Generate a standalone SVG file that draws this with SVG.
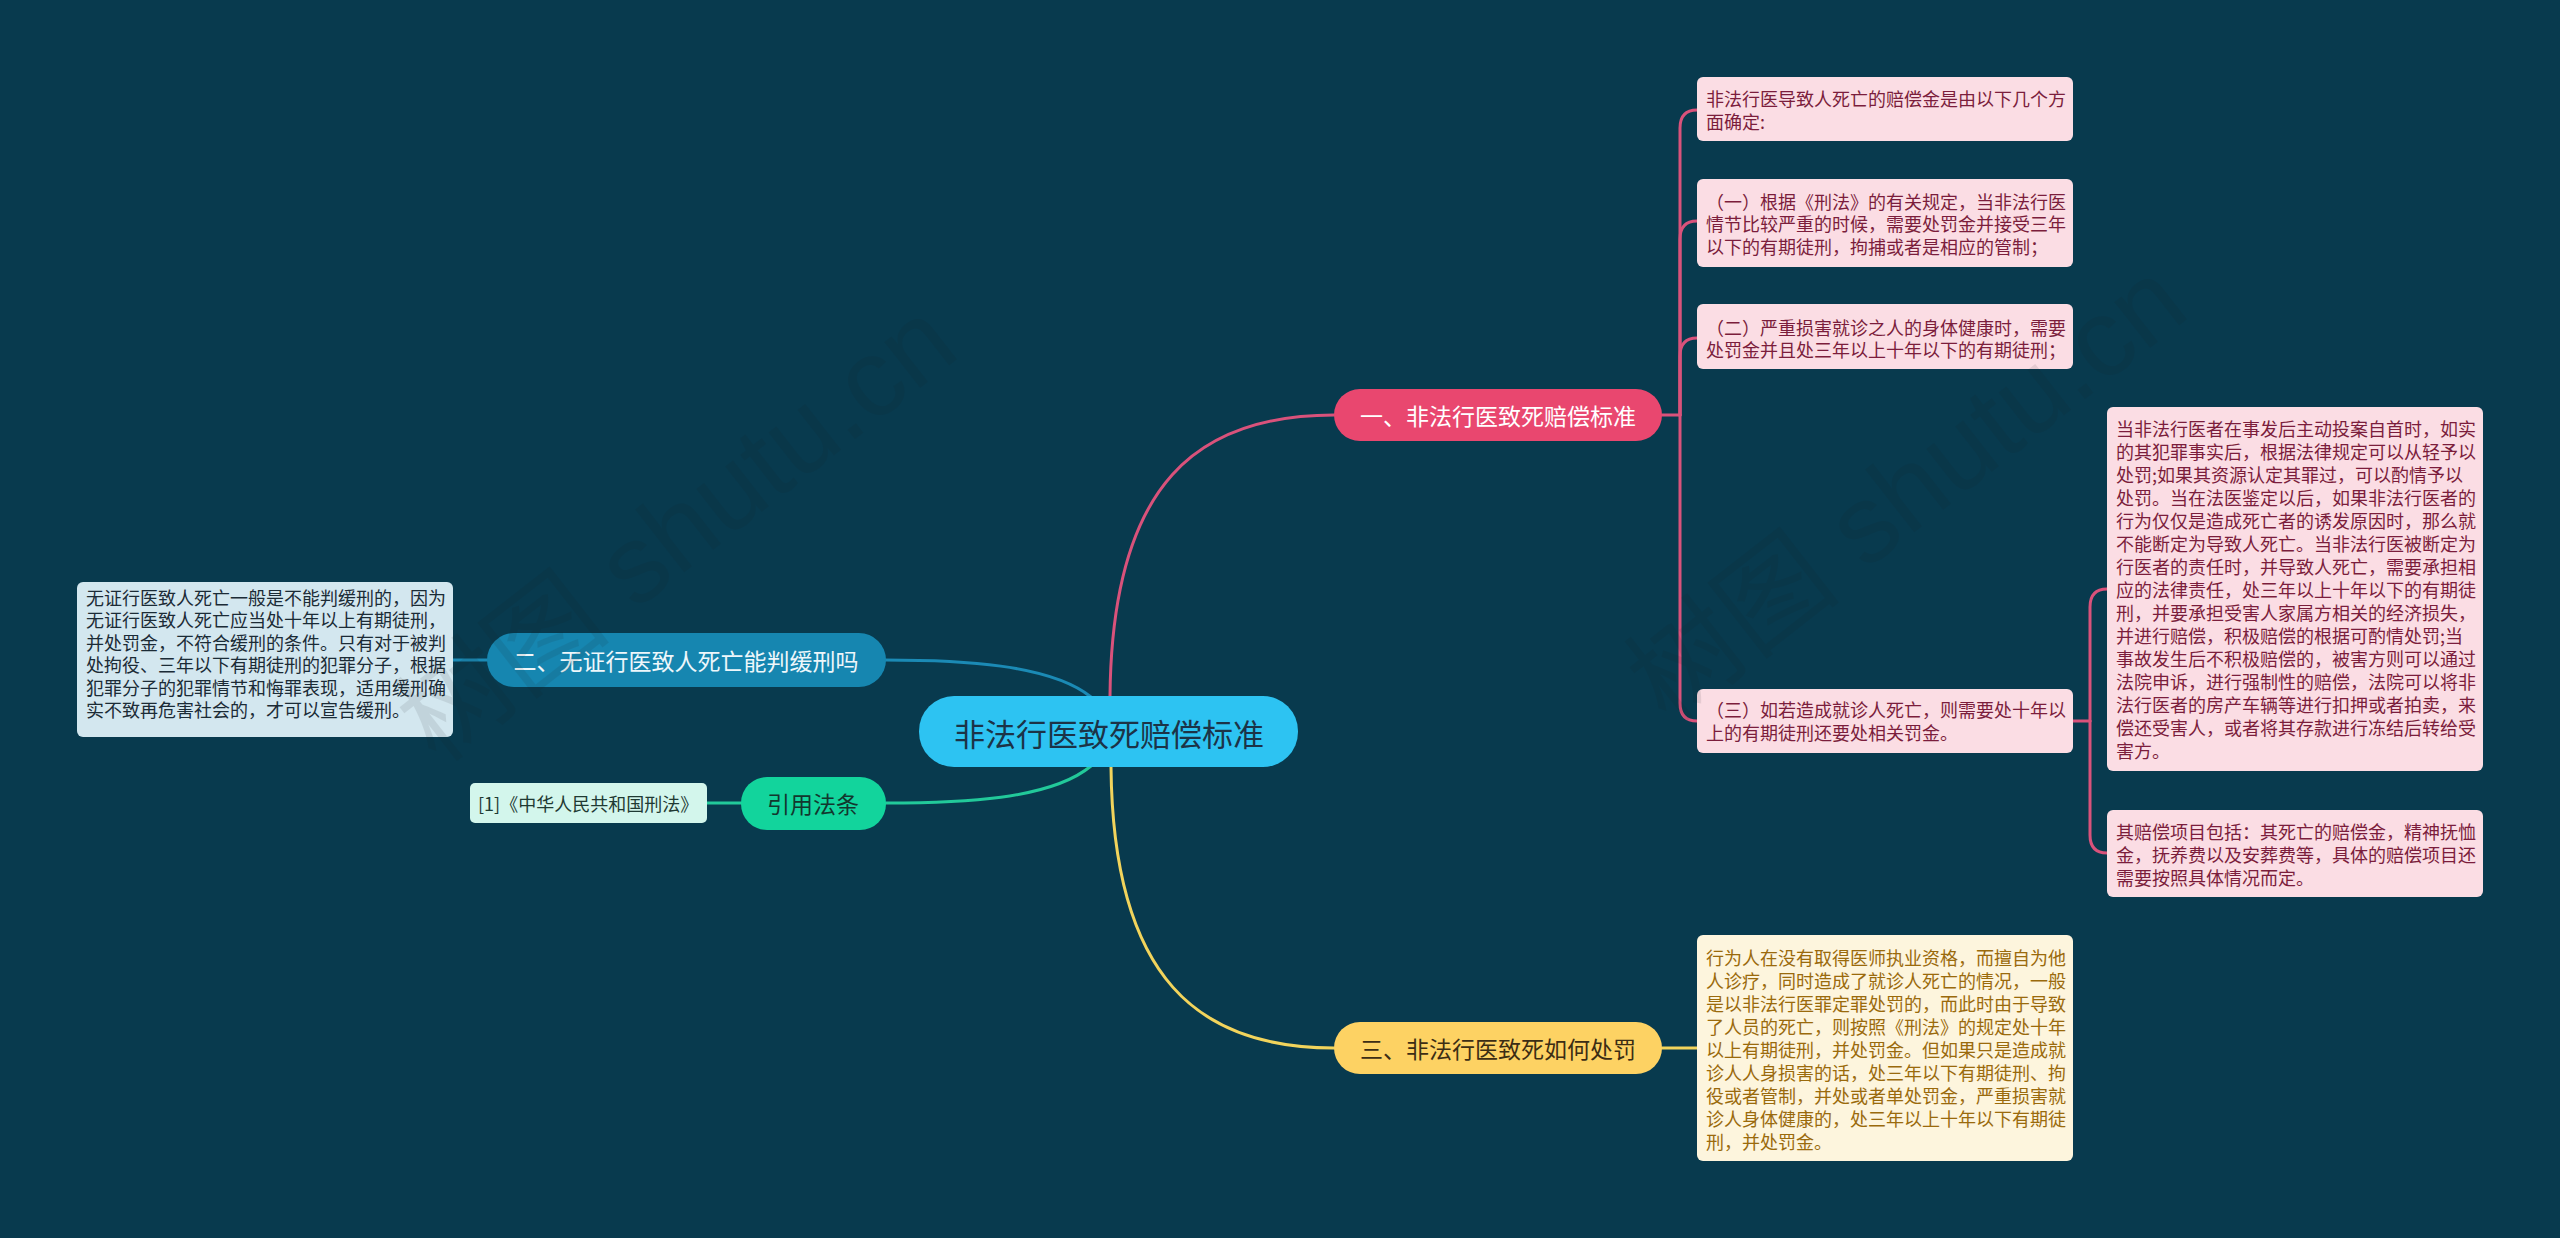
<svg xmlns="http://www.w3.org/2000/svg" width="2560" height="1238" viewBox="0 0 2560 1238">
<style>
.bg{fill:#083a4e}
.t{font-family:"Noto Sans CJK SC","Liberation Sans",sans-serif}
.body{font-size:18px}
.pink rect{fill:#fbdde4}
.pink text{fill:#7b1d3c}
.yel rect{fill:#fdf5dd}
.yel text{fill:#9a6a0c}
.lb rect{fill:#d3e7ef}
.lb text{fill:#1b2b36}
.lnk{fill:none;stroke-width:3;stroke-linecap:round}
.lk-p{stroke:#d9527b}
.lk-b{stroke:#1b8ab5}
.lk-g{stroke:#22c99a}
.lk-y{stroke:#f2d45c}
.node-t{font-size:23px;text-anchor:middle;dominant-baseline:central}
.wm{font-family:"Liberation Sans","Noto Sans CJK SC",sans-serif;font-size:110px;fill:#1a1a1a;opacity:0.09}
</style>
<rect class="bg" x="0" y="0" width="2560" height="1238"/>

<g id="connectors">
  <path class="lnk lk-p" d="M1110 696 C1112 480 1200 415 1334 415"/>
  <path class="lnk lk-y" d="M1111 767 C1113 980 1200 1048 1334 1048"/>
  <path class="lnk lk-b" d="M1091 697 C1050 664 960 660 885 660"/>
  <path class="lnk lk-g" d="M1091 766 C1050 800 960 803 886 803"/>
  <path class="lnk lk-b" d="M487 660 H453"/>
  <path class="lnk lk-g" d="M741 803 H707"/>
  <path class="lnk lk-p" d="M1662 415 H1680"/>
  <path class="lnk lk-p" d="M1680 415 V128 Q1680 110 1697 110"/>
  <path class="lnk lk-p" d="M1680 415 V239 Q1680 221 1697 221"/>
  <path class="lnk lk-p" d="M1680 415 V356 Q1680 338 1697 338"/>
  <path class="lnk lk-p" d="M1680 415 V703 Q1680 721 1697 721"/>
  <path class="lnk lk-p" d="M2073 721 H2090"/>
  <path class="lnk lk-p" d="M2090 721 V607 Q2090 589 2107 589"/>
  <path class="lnk lk-p" d="M2090 721 V835 Q2090 853 2107 853"/>
  <path class="lnk lk-y" d="M1662 1048 H1697"/>
</g>

<g id="root">
  <rect x="919" y="696" width="379" height="71" rx="35" fill="#2dc3f2"/>
  <text class="t" x="1109" y="732" font-size="31" text-anchor="middle" dominant-baseline="central" fill="#1c3347">非法行医致死赔偿标准</text>
</g>

<g id="n1">
  <rect x="1334" y="389" width="328" height="52" rx="26" fill="#e9476f"/>
  <text class="t node-t" x="1498" y="415" fill="#ffffff">一、非法行医致死赔偿标准</text>
</g>
<g id="n2">
  <rect x="487" y="633" width="399" height="54" rx="27" fill="#1686b0"/>
  <text class="t node-t" x="686" y="660" fill="#eef7fb">二、无证行医致人死亡能判缓刑吗</text>
</g>
<g id="n3">
  <rect x="1334" y="1022" width="328" height="52" rx="26" fill="#fdd263"/>
  <text class="t node-t" x="1498" y="1048" fill="#3c2d14">三、非法行医致死如何处罚</text>
</g>
<g id="n4">
  <rect x="741" y="777" width="145" height="53" rx="26" fill="#12d49c"/>
  <text class="t node-t" x="813" y="803" fill="#12372e">引用法条</text>
</g>
<g id="n4a">
  <rect x="470" y="783" width="237" height="40" rx="5" fill="#d3f6ec"/>
  <text class="t body" x="478" y="803" dominant-baseline="central" fill="#1f3a33">[1]《中华人民共和国刑法》</text>
</g>

<g id="n1a" class="pink">
  <rect x="1697" y="77" width="376" height="64" rx="6"/>
  <text class="t body" x="1706" y="106">非法行医导致人死亡的赔偿金是由以下几个方</text>
  <text class="t body" x="1706" y="129">面确定:</text>
</g>
<g id="n1b" class="pink">
  <rect x="1697" y="179" width="376" height="88" rx="6"/>
  <text class="t body" x="1706" y="209">（一）根据《刑法》的有关规定，当非法行医</text>
  <text class="t body" x="1706" y="231">情节比较严重的时候，需要处罚金并接受三年</text>
  <text class="t body" x="1706" y="254">以下的有期徒刑，拘捕或者是相应的管制；</text>
</g>
<g id="n1c" class="pink">
  <rect x="1697" y="304" width="376" height="65" rx="6"/>
  <text class="t body" x="1706" y="335">（二）严重损害就诊之人的身体健康时，需要</text>
  <text class="t body" x="1706" y="357">处罚金并且处三年以上十年以下的有期徒刑；</text>
</g>
<g id="n1d" class="pink">
  <rect x="1697" y="689" width="376" height="64" rx="6"/>
  <text class="t body" x="1706" y="717">（三）如若造成就诊人死亡，则需要处十年以</text>
  <text class="t body" x="1706" y="740">上的有期徒刑还要处相关罚金。</text>
</g>
<g id="n1d1" class="pink">
  <rect x="2107" y="407" width="376" height="364" rx="6"/>
  <text class="t body" x="2116" y="436">当非法行医者在事发后主动投案自首时，如实</text>
  <text class="t body" x="2116" y="459">的其犯罪事实后，根据法律规定可以从轻予以</text>
  <text class="t body" x="2116" y="482">处罚;如果其资源认定其罪过，可以酌情予以</text>
  <text class="t body" x="2116" y="505">处罚。当在法医鉴定以后，如果非法行医者的</text>
  <text class="t body" x="2116" y="528">行为仅仅是造成死亡者的诱发原因时，那么就</text>
  <text class="t body" x="2116" y="551">不能断定为导致人死亡。当非法行医被断定为</text>
  <text class="t body" x="2116" y="574">行医者的责任时，并导致人死亡，需要承担相</text>
  <text class="t body" x="2116" y="597">应的法律责任，处三年以上十年以下的有期徒</text>
  <text class="t body" x="2116" y="620">刑，并要承担受害人家属方相关的经济损失，</text>
  <text class="t body" x="2116" y="643">并进行赔偿，积极赔偿的根据可酌情处罚;当</text>
  <text class="t body" x="2116" y="666">事故发生后不积极赔偿的，被害方则可以通过</text>
  <text class="t body" x="2116" y="689">法院申诉，进行强制性的赔偿，法院可以将非</text>
  <text class="t body" x="2116" y="712">法行医者的房产车辆等进行扣押或者拍卖，来</text>
  <text class="t body" x="2116" y="735">偿还受害人，或者将其存款进行冻结后转给受</text>
  <text class="t body" x="2116" y="758">害方。</text>
</g>
<g id="n1d2" class="pink">
  <rect x="2107" y="810" width="376" height="87" rx="6"/>
  <text class="t body" x="2116" y="839">其赔偿项目包括：其死亡的赔偿金，精神抚恤</text>
  <text class="t body" x="2116" y="862">金，抚养费以及安葬费等，具体的赔偿项目还</text>
  <text class="t body" x="2116" y="885">需要按照具体情况而定。</text>
</g>

<g id="n3a" class="yel">
  <rect x="1697" y="935" width="376" height="226" rx="6"/>
  <text class="t body" x="1706" y="965">行为人在没有取得医师执业资格，而擅自为他</text>
  <text class="t body" x="1706" y="988">人诊疗，同时造成了就诊人死亡的情况，一般</text>
  <text class="t body" x="1706" y="1011">是以非法行医罪定罪处罚的，而此时由于导致</text>
  <text class="t body" x="1706" y="1034">了人员的死亡，则按照《刑法》的规定处十年</text>
  <text class="t body" x="1706" y="1057">以上有期徒刑，并处罚金。但如果只是造成就</text>
  <text class="t body" x="1706" y="1080">诊人人身损害的话，处三年以下有期徒刑、拘</text>
  <text class="t body" x="1706" y="1103">役或者管制，并处或者单处罚金，严重损害就</text>
  <text class="t body" x="1706" y="1126">诊人身体健康的，处三年以上十年以下有期徒</text>
  <text class="t body" x="1706" y="1149">刑，并处罚金。</text>
</g>

<g id="n2a" class="lb">
  <rect x="77" y="582" width="376" height="155" rx="6"/>
  <text class="t body" x="86" y="605">无证行医致人死亡一般是不能判缓刑的，因为</text>
  <text class="t body" x="86" y="627">无证行医致人死亡应当处十年以上有期徒刑，</text>
  <text class="t body" x="86" y="650">并处罚金，不符合缓刑的条件。只有对于被判</text>
  <text class="t body" x="86" y="672">处拘役、三年以下有期徒刑的犯罪分子，根据</text>
  <text class="t body" x="86" y="695">犯罪分子的犯罪情节和悔罪表现，适用缓刑确</text>
  <text class="t body" x="86" y="717">实不致再危害社会的，才可以宣告缓刑。</text>
</g>

<g id="watermark">
  <text class="wm" x="700" y="560" text-anchor="middle" transform="rotate(-38 700 560)">树图 shutu.cn</text>
  <text class="wm" x="1930" y="520" text-anchor="middle" transform="rotate(-38 1930 520)">树图 shutu.cn</text>
</g>
</svg>
